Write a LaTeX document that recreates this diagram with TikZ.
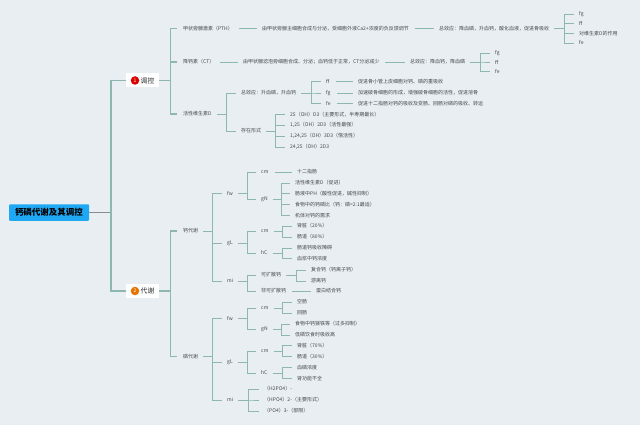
\documentclass[tikz,border=0pt]{standalone}
\usepackage{xcolor}
\usepackage{fontspec}
\setmainfont{Noto Sans CJK SC}
\definecolor{paper}{HTML}{E8EEF2}
\definecolor{branch}{HTML}{8DB8AF}
\definecolor{rootblue}{HTML}{1FA8F4}
\definecolor{label}{HTML}{44494C}
\usetikzlibrary{calc}
\tikzset{
  leaf/.style={anchor=west, inner xsep=0pt, inner ysep=0.5pt, text=label, font=\fontsize{5}{6}\selectfont},
  topic/.style={anchor=center, fill=white, minimum width=33pt, minimum height=14pt, inner sep=0pt, font=\fontsize{6.8}{8}\selectfont, text=black!85},
  badge/.style={circle, inner sep=0pt, minimum size=8.5pt, text=white, font=\fontsize{5}{6}\selectfont},
  % connectors: fork takes the trunk at the middle, tie is a plain straight piece
  link/.style={draw=branch, line width=0.8pt},
  mainlink/.style={draw=branch, line width=1.1pt},
  fork/.style={link, to path={($(\tikztostart.east)+(5,0)$) -| ($(\tikztostart.east)!0.5!(\tikztotarget.west)$) |- ($(\tikztotarget.west)+(-5,0)$)}},
  mainfork/.style={mainlink, to path={(\tikztostart.east) -| ($(\tikztostart.east)!0.5!(\tikztotarget.west)+(-1,0)$) |- ($(\tikztotarget.west)+(-6,0)$)}},
  tie/.style={link, to path={($(\tikztostart.east)+(6,0)$) -- ($(\tikztotarget.west)+(-5,0)$)}},
}
\begin{document}
\begin{tikzpicture}[x=1pt, y=-1pt]
  \useasboundingbox[fill=paper] (0,0) rectangle (640,425);

  % root and the two main topics
  \coordinate (stem) at (111,212.5);
  \node[anchor=center, fill=rootblue, rounded corners=1pt, minimum width=80pt, minimum height=16.5pt, inner sep=0pt, font=\fontsize{8.5}{10}\selectfont\bfseries, text=black] (root) at (49,212.5) {钙磷代谢及其调控};
  \node[topic] (tiaokong) at (142.5,80.5) {\hspace*{10pt}调控};
  \node[topic] (daixie) at (142.5,291) {\hspace*{10pt}代谢};
  \node[badge, fill=red!85!black] (one) at (135,80.5) {1};
  \node[badge, fill=orange!90!black] (two) at (135,291) {2};
  \draw[link, draw=gray!70!branch] (root.east) -- (stem);
  \draw[mainlink] (stem) |- (tiaokong.west);
  \draw[mainlink] (stem) |- (daixie.west);

  % tiaokong: PTH
  \node[leaf] (pth) at (183,28.5) {甲状旁腺激素（PTH）};
  \node[leaf] (pthsrc) at (262,28.5) {由甲状旁腺主细胞合成与分泌，受细胞外液Ca2+浓度的负反馈调节};
  \node[leaf] (pthall) at (439,28.5) {总效应：降血磷，升血钙，酸化血液，促进骨吸收};
  \node[leaf] (pthfg) at (579,14) {fg};
  \node[leaf] (pthff) at (579,23) {ff};
  \node[leaf] (pthvd) at (579,33.5) {对维生素D的作用};
  \node[leaf] (pthfe) at (579,43) {fe};
  \draw (pth) edge[tie] (pthsrc) (pthsrc) edge[tie] (pthall);
  \foreach \kid in {pthfg,pthff,pthvd,pthfe} \draw (pthall) edge[fork] (\kid);

  % tiaokong: CT
  \node[leaf] (ct) at (183,62) {降钙素（CT）};
  \node[leaf] (ctsrc) at (243,62) {由甲状腺滤泡旁细胞合成、分泌；血钙低于正常，CT分泌减少};
  \node[leaf] (ctall) at (410,62) {总效应：降血钙，降血磷};
  \node[leaf] (ctfg) at (495,53) {fg};
  \node[leaf] (ctff) at (495,62) {ff};
  \node[leaf] (ctfe) at (495,71.5) {fe};
  \draw (ct) edge[tie] (ctsrc) (ctsrc) edge[tie] (ctall);
  \foreach \kid in {ctfg,ctff,ctfe} \draw (ctall) edge[fork] (\kid);

  % tiaokong: vitamin D
  \node[leaf] (vd) at (183,114) {活性维生素D};
  \node[leaf] (vdall) at (241,93) {总效应：升血磷，升血钙};
  \node[leaf] (vdform) at (241,131) {存在形式};
  \node[leaf] (vdff) at (326,81.5) {ff};
  \node[leaf] (vdfg) at (326,93) {fg};
  \node[leaf] (vdfe) at (326,103.5) {fe};
  \node[leaf] (vdffa) at (358,81.5) {促进骨小管上皮细胞对钙、磷的重吸收};
  \node[leaf] (vdfga) at (358,93) {加速破骨细胞的形成，增强破骨细胞的活性，促进溶骨};
  \node[leaf] (vdfea) at (358,103.5) {促进十二指肠对钙的吸收及变肠、回肠对磷的吸收、转运};
  \node[leaf] (forma) at (290,114.5) {25（OH）D3（主要形式，半寿期最长）};
  \node[leaf] (formb) at (290,125) {1,25（OH）2D3（活性最强）};
  \node[leaf] (formc) at (290,136) {1,24,25（OH）3D3（惰活性）};
  \node[leaf] (formd) at (290,147) {24,25（OH）2D3};
  \foreach \kid in {vdall,vdform} \draw (vd) edge[fork] (\kid);
  \foreach \kid in {vdff,vdfg,vdfe} \draw (vdall) edge[fork] (\kid);
  \foreach \kid in {forma,formb,formc,formd} \draw (vdform) edge[fork] (\kid);
  \draw (vdff) edge[tie] (vdffa) (vdfg) edge[tie] (vdfga) (vdfe) edge[tie] (vdfea);
  \foreach \kid in {pth,ct,vd} \draw (tiaokong) edge[mainfork] (\kid);

  % daixie: calcium
  \node[leaf] (ca) at (183,231) {钙代谢};
  \node[leaf] (cafw) at (227,193.5) {fw};
  \node[leaf] (cagl) at (227,243) {gL};
  \node[leaf] (cami) at (227,281) {mi};
  \node[leaf] (cacm) at (261,172) {cm};
  \node[leaf] (cagn) at (261,199.5) {gN};
  \node[leaf] (caduo) at (297,172) {十二指肠};
  \node[leaf] (cagna) at (295,183) {活性维生素D（促进）};
  \node[leaf] (cagnb) at (295,193.5) {肠液中PH（酸性促进，碱性抑制）};
  \node[leaf] (cagnc) at (295,204.5) {食物中的钙磷比（钙：磷=2:1最适）};
  \node[leaf] (cagnd) at (295,215.5) {机体对钙的需求};
  \node[leaf] (caout) at (261,231.5) {cm};
  \node[leaf] (cahc) at (261,253) {hC};
  \node[leaf] (caouta) at (297,226) {肾脏（20\%）};
  \node[leaf] (caoutb) at (297,237) {肠道（80\%）};
  \node[leaf] (cahca) at (297,248) {肠道钙吸收障碍};
  \node[leaf] (cahcb) at (297,258.5) {血浆中钙浓度};
  \node[leaf] (cadif) at (261,275) {可扩散钙};
  \node[leaf] (cafix) at (261,291) {非可扩散钙};
  \node[leaf] (cadifa) at (311,270) {复合钙（钙离子钙）};
  \node[leaf] (cadifb) at (311,281) {游离钙};
  \node[leaf] (cafixa) at (316,291) {蛋白结合钙};
  \foreach \kid in {cafw,cagl,cami} \draw (ca) edge[fork] (\kid);
  \foreach \kid in {cacm,cagn} \draw (cafw) edge[fork] (\kid);
  \foreach \kid in {cagna,cagnb,cagnc,cagnd} \draw (cagn) edge[fork] (\kid);
  \foreach \kid in {caout,cahc} \draw (cagl) edge[fork] (\kid);
  \foreach \kid in {caouta,caoutb} \draw (caout) edge[fork] (\kid);
  \foreach \kid in {cahca,cahcb} \draw (cahc) edge[fork] (\kid);
  \foreach \kid in {cadif,cafix} \draw (cami) edge[fork] (\kid);
  \foreach \kid in {cadifa,cadifb} \draw (cadif) edge[fork] (\kid);
  \draw (cacm) edge[tie] (caduo) (cafix) edge[tie] (cafixa);

  % daixie: phosphorus
  \node[leaf] (po) at (183,356.5) {磷代谢};
  \node[leaf] (pofw) at (227,318.5) {fw};
  \node[leaf] (pogl) at (227,362) {gL};
  \node[leaf] (pomi) at (227,400) {mi};
  \node[leaf] (pocm) at (261,308) {cm};
  \node[leaf] (pogn) at (261,329.5) {gN};
  \node[leaf] (pocma) at (297,302) {空肠};
  \node[leaf] (pocmb) at (297,313) {回肠};
  \node[leaf] (pogna) at (295,324) {食物中钙镁铁等（过多抑制）};
  \node[leaf] (pognb) at (295,335) {低磷饮食时吸收高};
  \node[leaf] (poout) at (261,351) {cm};
  \node[leaf] (pohc) at (261,373) {hC};
  \node[leaf] (poouta) at (297,345.5) {肾脏（70\%）};
  \node[leaf] (pooutb) at (297,356.5) {肠道（30\%）};
  \node[leaf] (pohca) at (297,367.5) {血磷浓度};
  \node[leaf] (pohcb) at (297,378.5) {肾功能不全};
  \node[leaf] (pomia) at (264,389) {（H2PO4）-};
  \node[leaf] (pomib) at (264,400) {（HPO4）2-（主要形式）};
  \node[leaf] (pomic) at (264,411) {（PO4）3-（部限）};
  \foreach \kid in {pofw,pogl,pomi} \draw (po) edge[fork] (\kid);
  \foreach \kid in {pocm,pogn} \draw (pofw) edge[fork] (\kid);
  \foreach \kid in {pocma,pocmb} \draw (pocm) edge[fork] (\kid);
  \foreach \kid in {pogna,pognb} \draw (pogn) edge[fork] (\kid);
  \foreach \kid in {poout,pohc} \draw (pogl) edge[fork] (\kid);
  \foreach \kid in {poouta,pooutb} \draw (poout) edge[fork] (\kid);
  \foreach \kid in {pohca,pohcb} \draw (pohc) edge[fork] (\kid);
  \foreach \kid in {pomia,pomib,pomic} \draw (pomi) edge[fork] (\kid);
  \foreach \kid in {ca,po} \draw (daixie) edge[mainfork] (\kid);
\end{tikzpicture}
\end{document}
